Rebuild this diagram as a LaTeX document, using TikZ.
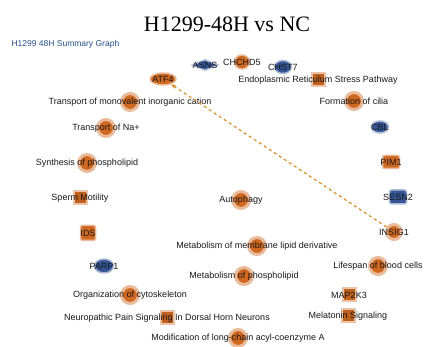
\documentclass[tikz,border=0pt]{standalone}
\usepackage{fontspec}
\setmainfont{Liberation Serif}
\setsansfont{Liberation Sans}
\usepackage{tikz}
\usetikzlibrary{
    arrows.meta,
    shapes.geometric,
    backgrounds
}
\definecolor{ipaorange}{RGB}{208,104,32}
\definecolor{ipablue}{RGB}{52,86,150}
\definecolor{edgegray}{RGB}{198,208,222}
\definecolor{headblue}{RGB}{40,80,140}
\tikzstyle{func} = [
    circle,
    fill=ipaorange,
    draw=ipaorange!45,
    line width=3pt,
    minimum size=17pt,
    inner sep=0pt
]
\tikzstyle{pathway} = [
    rectangle,
    fill=ipaorange!92!black,
    draw=ipaorange!40,
    line width=2pt,
    minimum size=13pt,
    inner sep=0pt
]
\tikzstyle{upgene} = [
    ellipse,
    fill=ipaorange,
    draw=ipaorange!45,
    line width=1.5pt,
    minimum width=26pt,
    minimum height=12pt,
    inner sep=0pt
]
\tikzstyle{downgene} = [
    ellipse,
    fill=ipablue,
    draw=ipablue!40,
    line width=1.5pt,
    minimum width=20pt,
    minimum height=12pt,
    inner sep=0pt
]
\tikzstyle{lbl} = [
    font=\sffamily\fontsize{9}{10}\selectfont,
    text=black!90,
    inner sep=0pt
]
\tikzstyle{link} = [
    draw=edgegray,
    line width=0.8pt
]
\tikzstyle{predict} = [
    dashed,
    draw=ipaorange!80!yellow,
    line width=1.1pt,
    -{Stealth[length=5pt]}
]

\begin{document}
\begin{tikzpicture}[x=1pt, y=-1pt]
        \fill[white] (0,0) rectangle (445,347);
        \useasboundingbox (0,0) rectangle (445,347);

        % Titles
        \node[font=\fontsize{22}{24}\selectfont] (title) at (227,24) {H1299-48H vs NC};
        \node[anchor=west, font=\sffamily\fontsize{8.5}{10}\selectfont, text=headblue] (sub) at (8,44) {H1299 48H Summary Graph};

        % Genes
        \node[upgene, label={[lbl]center:ATF4}] (atf4) at (163,79) {};
        \node[downgene, diamond, minimum width=26pt, minimum height=11pt, label={[lbl]center:ASNS}] (asns) at (205,65) {};
        \node[upgene, minimum width=15pt, minimum height=14pt, label={[lbl]center:CHCHD5}] (chchd5) at (242,62) {};
        \node[downgene, minimum width=17pt, minimum height=13pt, label={[lbl]center:CHST7}] (chst7) at (283,67) {};
        \node[downgene, minimum width=17pt, label={[lbl]center:CBL}] (cbl) at (380,127) {};
        \node[upgene, rectangle, rounded corners=2pt, minimum width=17pt, minimum height=13pt, label={[lbl]center:PIM1}] (pim1) at (391,162) {};
        \node[downgene, rectangle, rounded corners=2pt, minimum width=17pt, minimum height=14pt, label={[lbl]center:SESN2}] (sesn2) at (398,197) {};
        \node[func, minimum size=15pt, label={[lbl]center:INSIG1}] (insig1) at (394,232) {};
        \node[upgene, rectangle, rounded corners=2pt, minimum width=15pt, minimum height=15pt, label={[lbl]center:IDS}] (ids) at (88,233) {};
        \node[downgene, minimum width=19pt, minimum height=14pt, label={[lbl]center:PARP1}] (parp1) at (104,266) {};
        \node[pathway, label={[lbl]center:MAP2K3}] (map2k3) at (349,295) {};

        % Functions and pathways
        \node[func, label={[lbl]center:Transport of monovalent inorganic cation}] (monocat) at (130,102) {};
        \node[func, label={[lbl]center:Transport of Na+}] (natrans) at (106,128) {};
        \node[func, label={[lbl]center:Synthesis of phospholipid}] (synpl) at (87,163) {};
        \node[pathway, label={[lbl]center:Sperm Motility}] (sperm) at (80,198) {};
        \node[pathway, label={[lbl]center:Endoplasmic Reticulum Stress Pathway}] (erstress) at (318,80) {};
        \node[func, label={[lbl]center:Formation of cilia}] (cilia) at (354,101) {};
        \node[func, label={[lbl]center:Autophagy}] (autoph) at (241,200) {};
        \node[func, label={[lbl]center:Metabolism of membrane lipid derivative}] (memlip) at (257,246) {};
        \node[func, label={[lbl]center:Metabolism of phospholipid}] (metpl) at (244,276) {};
        \node[func, label={[lbl]center:Lifespan of blood cells}] (blood) at (378,266) {};
        \node[func, label={[lbl]center:Organization of cytoskeleton}] (cyto) at (130,295) {};
        \node[pathway, label={[lbl]center:Neuropathic Pain Signaling In Dorsal Horn Neurons}] (neuro) at (167,318) {};
        \node[pathway, label={[lbl]center:Melatonin Signaling}] (melat) at (348,316) {};
        \node[func, label={[lbl]center:Modification of long-chain acyl-coenzyme A}] (acyl) at (238,338) {};

        % Edges
        \begin{scope}[on background layer]
            \draw[link] (atf4) -- (asns);
            \draw[link] (asns) -- (chchd5);
            \draw[link] (erstress) -- (autoph);
            \draw[link] (erstress) -- (sperm);
            \draw[link] (cilia) -- (blood);
            \draw[link] (cilia) -- (metpl);
            \draw[link] (monocat) -- (cilia);
            \draw[link] (autoph) -- (pim1);
            \draw[link] (autoph) -- (memlip);
            \draw[link] (synpl) -- (cyto);
            \draw[link] (sperm) -- (neuro);
            \draw[link] (ids) -- (memlip);
            \draw[link] (parp1) -- (autoph);
            \draw[link] (metpl) -- (melat);
            \draw[link, densely dotted] (neuro) -- (melat);
            \draw[link] (cbl) -- (blood);
            \draw[link] (sesn2) -- (memlip);
            \draw[link] (natrans) -- (acyl);
            \draw[link] (cyto) -- (metpl);
            \draw[link] (map2k3) -- (metpl);
            \draw[link] (chst7) -- (sperm);
            \draw[link] (synpl) -- (pim1);
        \end{scope}

        % Predicted relation
        \draw[predict] (insig1) -- (atf4);
    \end{tikzpicture}
\end{document}
